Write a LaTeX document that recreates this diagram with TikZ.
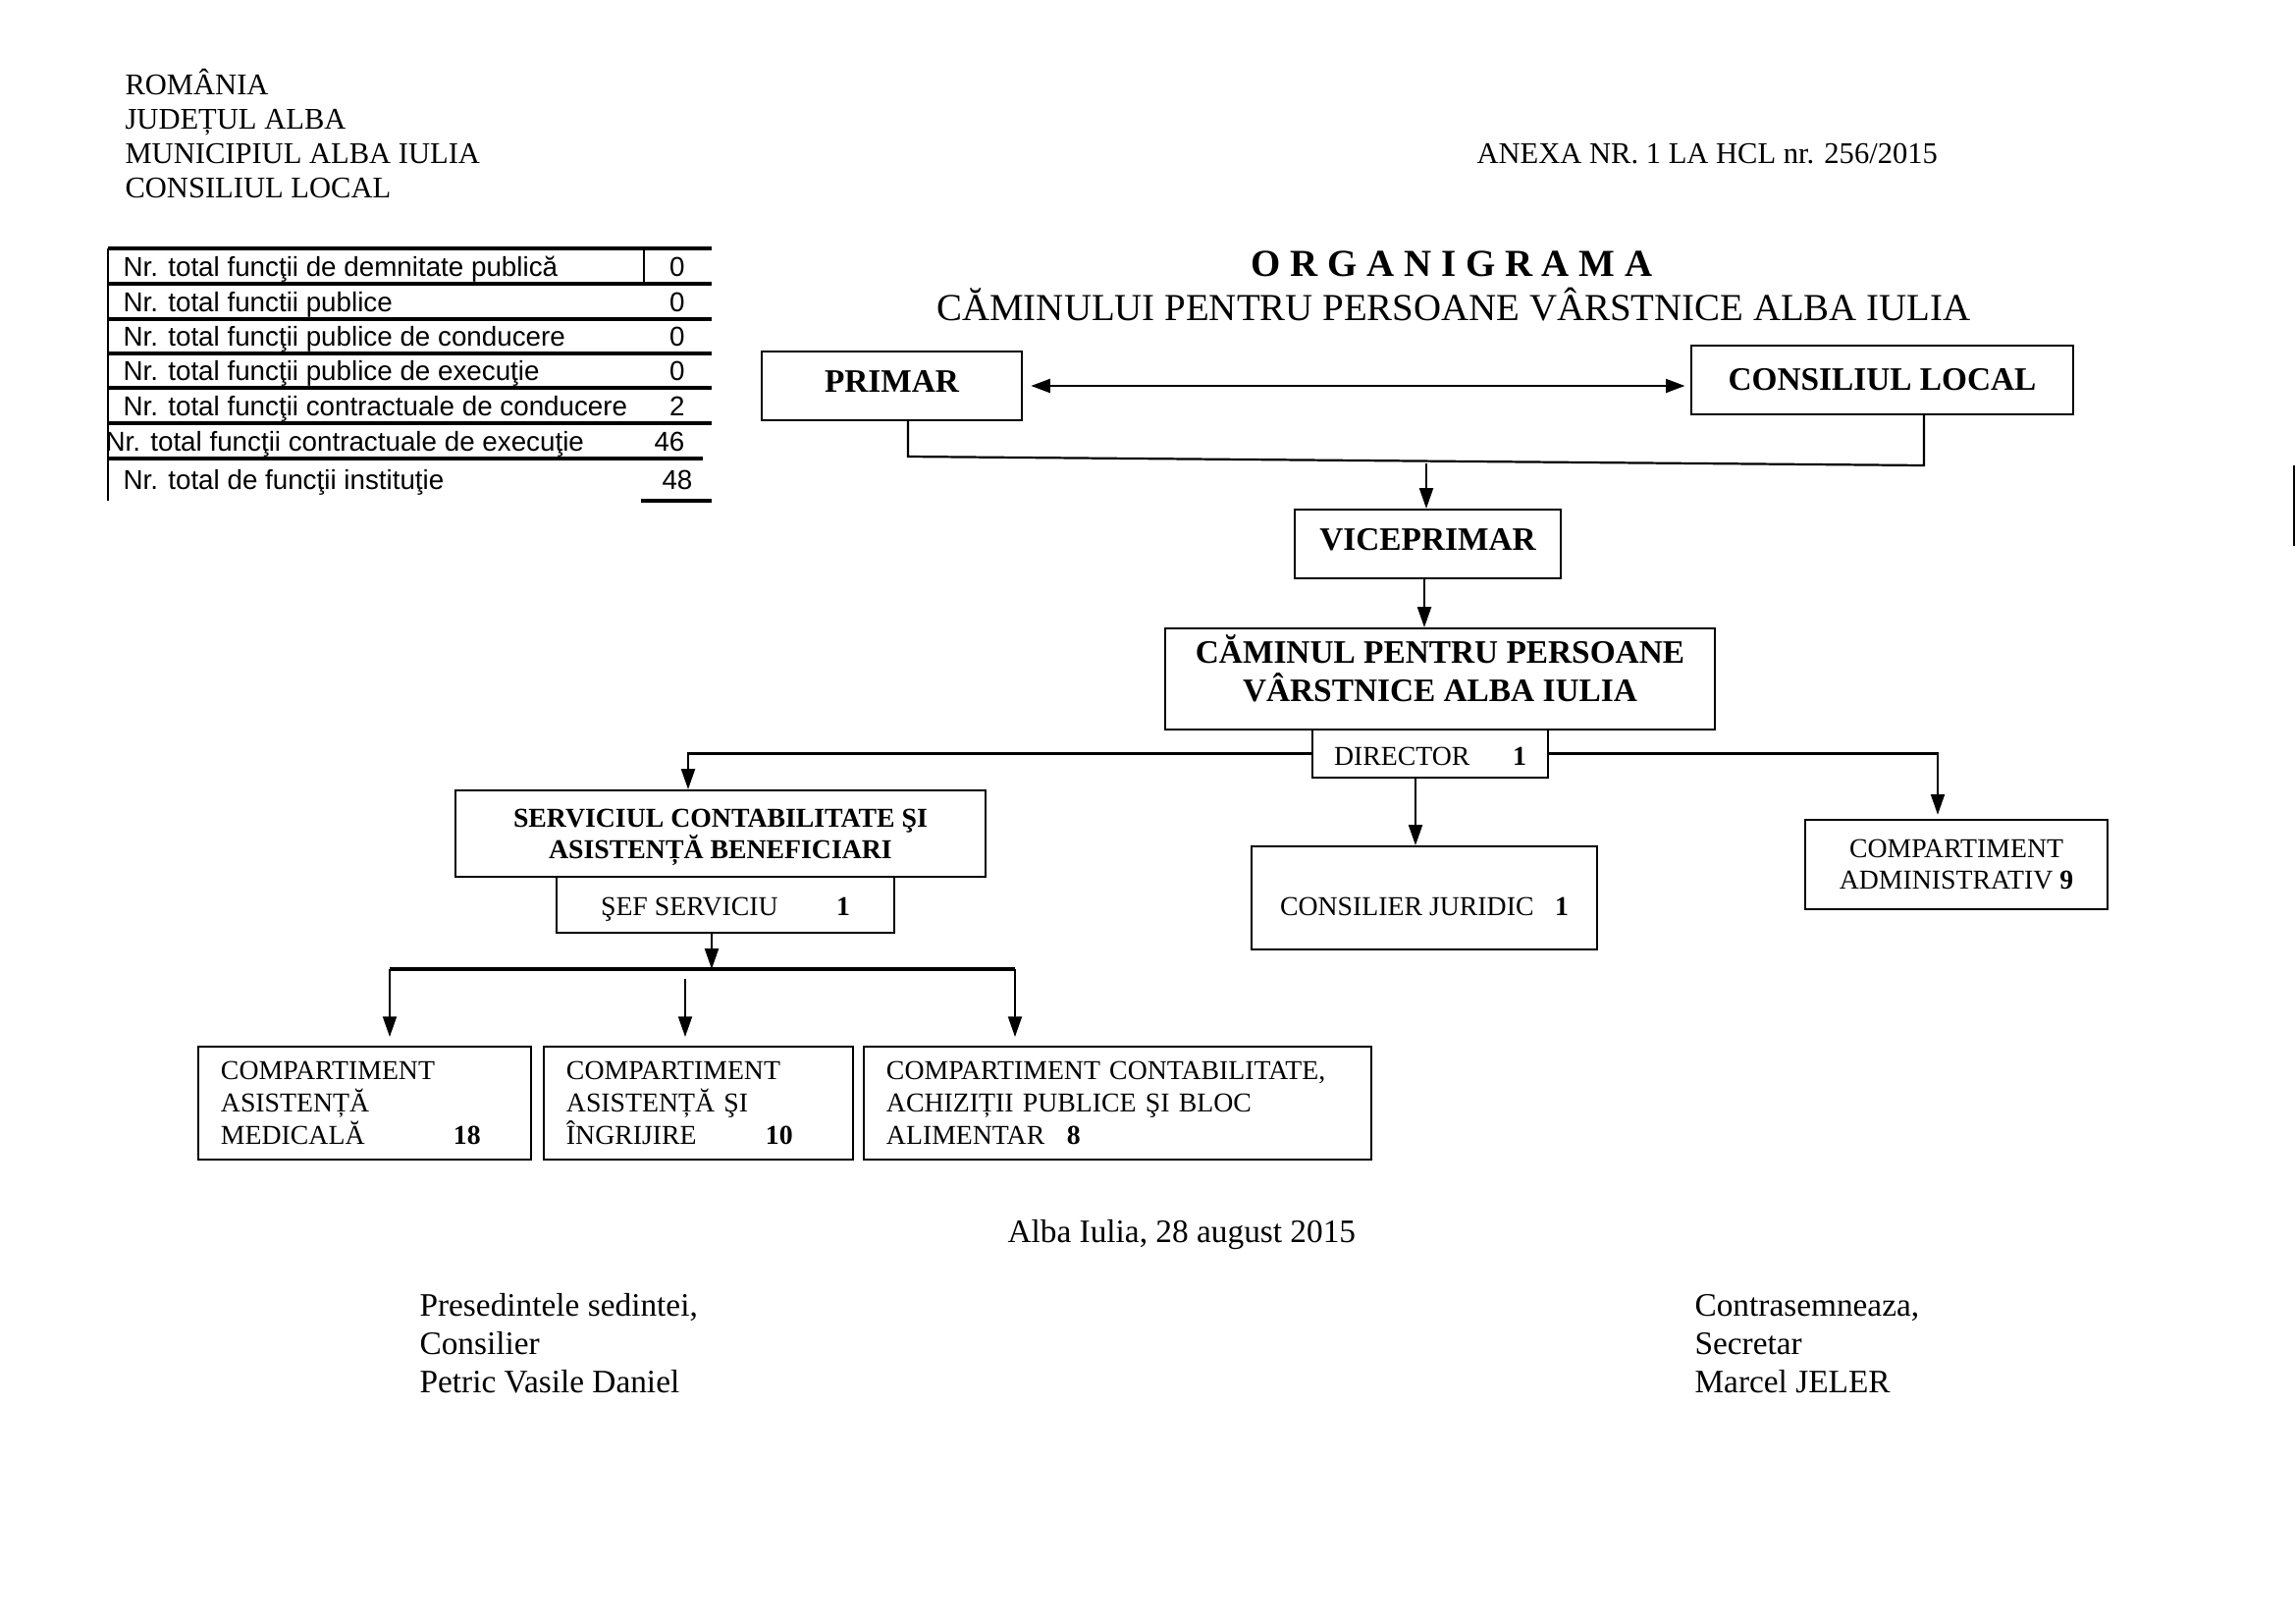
\documentclass[tikz,border=0pt]{standalone}
\usepackage{fontspec}
\setmainfont{Liberation Serif}
\newfontfamily\arialf{Liberation Sans}
\usetikzlibrary{arrows.meta}
\newlength\pxu
\setlength\pxu{0.36pt}
\newcommand\bx[7][]{\node[box,#1,minimum width={(#5-#3)*0.36pt},minimum height={(#6-#4)*0.36pt}] (#2) at ({(#3+#5)/2},{(#4+#6)/2}) {#7};}
\begin{document}
\begin{tikzpicture}[x=0.36pt,y=-0.36pt,
  box/.style={draw, line width=0.7pt, inner sep=0pt, align=center, fill=white, font=\fontsize{10}{11.5}\selectfont},
  bbox/.style={box, font=\bfseries\fontsize{12}{14}\selectfont},
  sbox/.style={box, font=\bfseries\fontsize{10}{11.5}\selectfont},
  lbox/.style={box, align=left, anchor=north west, inner xsep=8.28pt, minimum height=41.4pt, font=\fontsize{10}{12}\selectfont},
  arr/.style={line width=0.8pt, -{Triangle[length=7.5pt,width=5pt]}},
  arrtwo/.style={line width=0.8pt, {Triangle[length=7pt,width=5pt]}-{Triangle[length=7pt,width=5pt]}},
  lnk/.style={line width=0.8pt},
  hdr/.style={anchor=base west, inner sep=0pt, font=\fontsize{11}{13}\selectfont},
  ftr/.style={anchor=base west, inner sep=0pt, font=\fontsize{12}{14}\selectfont},
  tab/.style={anchor=base west, inner sep=0pt, font=\arialf\fontsize{10}{12}\selectfont},
  num/.style={tab, anchor=base east},
  tline/.style={line width=1.2pt},
  vline/.style={line width=0.7pt},
]
\fill[white] (0,0) rectangle (2339,1653);
\useasboundingbox (0,0) rectangle (2339,1653);

% header
\node[hdr] (h1) at (127,96) {ROMÂNIA};
\node[hdr] (h2) at (127,131) {JUDEȚUL ALBA};
\node[hdr] (h3) at (127,166) {MUNICIPIUL ALBA IULIA};
\node[hdr] (h4) at (127,201) {CONSILIUL LOCAL};
\node[hdr] (anexa) at (1504,166) {ANEXA NR. 1 LA HCL nr. 256/2015};

% table
\draw[tline] (110,253) -- (725,253);
\foreach \yy in {289,325,360,395,431} \draw[tline] (110,\yy) -- (725,\yy);
\draw[tline] (110,467) -- (716,467);
\draw[tline] (653,510) -- (725,510);
\draw[vline] (110,253) -- (110,510);
\draw[vline] (656,253) -- (656,289);
\node[tab] (t1) at (125,281) {Nr. total funcţii de demnitate publică};
\node[tab] (t2) at (125,317) {Nr. total functii publice};
\node[tab] (t3) at (125,352) {Nr. total funcţii publice de conducere};
\node[tab] (t4) at (125,387) {Nr. total funcţii publice de execuţie};
\node[tab] (t5) at (125,423) {Nr. total funcţii contractuale de conducere};
\node[tab] (t6) at (107,459) {Nr. total funcţii contractuale de execuţie};
\node[tab] (t7) at (125,498) {Nr. total de funcţii instituţie};
\node[num] (n1) at (698,281) {0};
\node[num] (n2) at (698,317) {0};
\node[num] (n3) at (698,352) {0};
\node[num] (n4) at (698,387) {0};
\node[num] (n5) at (698,423) {2};
\node[num] (n6) at (698,459) {46};
\node[num] (n7) at (706,498) {48};

% title
\node[anchor=base, inner sep=0pt, font=\bfseries\fontsize{14}{16}\selectfont] (title) at (1479,281) {O R G A N I G R A M A};
\node[anchor=base, inner sep=0pt, font=\fontsize{14}{16}\selectfont] (subtitle) at (1481,326) {CĂMINULUI PENTRU PERSOANE VÂRSTNICE ALBA IULIA};

% boxes
\bx[bbox]{primar}{776}{358}{1041}{428}{PRIMAR\rule[-3.2pt]{0pt}{0pt}}
\bx[bbox]{cl}{1723}{352}{2112}{422}{CONSILIUL LOCAL}
\bx[bbox]{vice}{1319}{519}{1590}{589}{VICEPRIMAR\rule[-3.2pt]{0pt}{0pt}}
\bx[bbox]{cam}{1187}{640}{1747}{743}{CĂMINUL PENTRU PERSOANE\\VÂRSTNICE ALBA IULIA\rule[-8.2pt]{0pt}{0pt}}
\bx[box]{dir}{1337}{743}{1577}{792}{\rule{0pt}{9pt}\makebox[182\pxu][l]{DIRECTOR}\textbf{1}}
\bx[sbox]{serv}{464}{805}{1004}{893}{\rule{0pt}{9.6pt}SERVICIUL CONTABILITATE ŞI\\ASISTENȚĂ BENEFICIARI}
\bx[box]{sef}{567}{893}{911}{950}{\rule{0pt}{9.8pt}\makebox[240\pxu][l]{ŞEF SERVICIU}\textbf{1}}
\bx[box]{cj}{1275}{862}{1627}{967}{\rule{0pt}{13pt}\makebox[280\pxu][l]{CONSILIER JURIDIC}\textbf{1}}
\bx[box]{adm}{1839}{835}{2147}{926}{COMPARTIMENT\\ADMINISTRATIV \textbf{9}}
\node[lbox, text width=105.48pt] (b1) at (201,1065) {COMPARTIMENT\\ASISTENȚĂ\\\makebox[237\pxu][l]{MEDICALĂ}\textbf{18}};
\node[lbox, text width=96.84pt] (b2) at (553,1065) {COMPARTIMENT\\ASISTENȚĂ ŞI\\\makebox[203\pxu][l]{ÎNGRIJIRE}\textbf{10}};
\node[lbox, text width=169.56pt] (b3) at (879,1065) {COMPARTIMENT CONTABILITATE,\\ACHIZIȚII PUBLICE ŞI BLOC\\\makebox[184\pxu][l]{ALIMENTAR}\textbf{8}};

% connectors
\draw[arrtwo] ([xshift=3pt]primar.east) -- ([xshift=-2pt]primar.east -| cl.west);
\coordinate (jl) at (925,465);
\coordinate (jr) at (1960,474);
\coordinate (jm) at (1453,472);
\draw[lnk] (primar.south -| jl) -- (jl) -- (jr) -- (cl.south -| jr);
\draw[arr] (jm) -- (jm |- vice.north);
\coordinate (vx) at (1451,0);
\draw[arr] (vice.south -| vx) -- (cam.north -| vx);
\coordinate (sl) at (701,767.5);
\coordinate (sr) at (1974,767.5);
\coordinate (dx) at (1442,0);
\draw[arr] (dir.west) -- (sl) -- (sl |- serv.north);
\draw[arr, shorten >=1.5pt] (dir.east) -- (sr) -- (sr |- adm.north);
\draw[arr] (dir.south -| dx) -- (cj.north -| dx);
\coordinate (hb) at (725,987);
\coordinate (c1) at (397,987);
\coordinate (c2) at (698,997);
\coordinate (c3) at (1034,987);
\draw[arr] (sef.south -| hb) -- (hb);
\draw[lnk, line width=1.1pt] (c1) -- (c3);
\draw[arr, shorten >=3.2pt] (c1) -- (c1 |- b1.north);
\draw[arr, shorten >=3.2pt] (c2) -- (c2 |- b2.north);
\draw[arr, shorten >=3.2pt] (c3) -- (c3 |- b3.north);

% footer
\node[ftr] (date) at (1026,1265) {Alba Iulia, 28 august 2015};
\node[ftr] (f1) at (427,1340) {Presedintele sedintei,};
\node[ftr] (f2) at (427,1379) {Consilier};
\node[ftr] (f3) at (427,1418) {Petric Vasile Daniel};
\node[ftr] (g1) at (1726,1340) {Contrasemneaza,};
\node[ftr] (g2) at (1726,1379) {Secretar};
\node[ftr] (g3) at (1726,1418) {Marcel JELER};

% edge mark
\draw[line width=1pt] (2337,474) -- (2337,556);
\end{tikzpicture}
\end{document}
